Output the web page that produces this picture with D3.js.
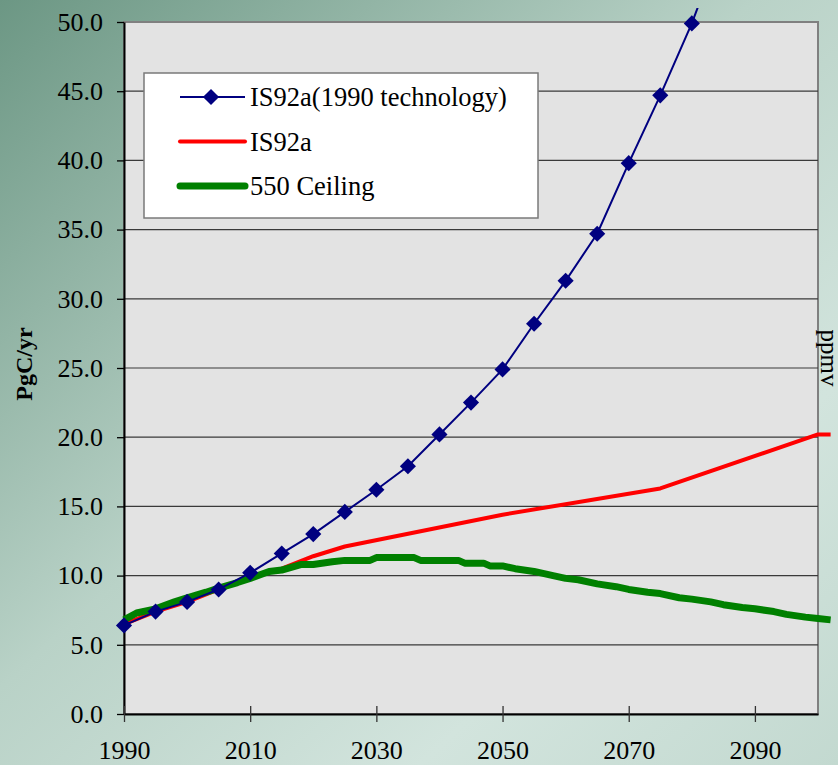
<!DOCTYPE html>
<html lang="en">
<head>
<meta charset="UTF-8">
<title>Emissions scenarios</title>
<script src="https://d3js.org/d3.v7.min.js"></script>
<style>
  html, body { margin: 0; padding: 0; }
  svg { display: block; font-family: "Liberation Serif", "Times New Roman", serif; }
</style>
</head>
<body>
<div id="chart"></div>
<script>
const width = 838;
const height = 765;

// IS92a with 1990 technology, every 5 years (markers)
const techYears = [1990, 1995, 2000, 2005, 2010, 2015, 2020, 2025, 2030, 2035, 2040, 2045, 2050, 2055, 2060, 2065, 2070, 2075, 2080, 2085];
const techValues = [6.4, 7.4, 8.1, 9.0, 10.2, 11.6, 13.0, 14.6, 16.2, 17.9, 20.2, 22.5, 24.9, 28.2, 31.3, 34.7, 39.8, 44.7, 49.9, 56.0];

// IS92a
const is92aYears = [1990, 1995, 2000, 2005, 2010, 2015, 2020, 2025, 2050, 2075, 2100, 2102];
const is92aValues = [6.5, 7.4, 8.1, 9.0, 9.9, 10.5, 11.4, 12.1, 14.4, 16.3, 20.2, 20.2];

// 550 ppmv ceiling
const ceilYears = [1990, 1992, 1995, 1998, 2000, 2003, 2005, 2008, 2010, 2013, 2015, 2018, 2020, 2023, 2025, 2029, 2030, 2036, 2037, 2043, 2044, 2047, 2048, 2050, 2052, 2055, 2058, 2060, 2062, 2065, 2068, 2070, 2073, 2075, 2078, 2080, 2083, 2085, 2088, 2090, 2093, 2095, 2098, 2100, 2102];
const ceilValues = [6.8, 7.3, 7.6, 8.1, 8.4, 8.8, 9.1, 9.5, 9.8, 10.3, 10.4, 10.8, 10.8, 11.0, 11.1, 11.1, 11.3, 11.3, 11.1, 11.1, 10.9, 10.9, 10.7, 10.7, 10.5, 10.3, 10.0, 9.8, 9.7, 9.4, 9.2, 9.0, 8.8, 8.7, 8.4, 8.3, 8.1, 7.9, 7.7, 7.6, 7.4, 7.2, 7.0, 6.9, 6.8];

const yTicks = [0, 5, 10, 15, 20, 25, 30, 35, 40, 45, 50];
const xTicks = [1990, 2010, 2030, 2050, 2070, 2090];

const seriesNames = ["IS92a(1990 technology)", "IS92a", "550 Ceiling"];

const margin = { top: 22, right: 20, bottom: 51, left: 124 };
const plotRight = 818;
const plotBottom = height - margin.bottom;

const svg = d3.select("#chart").append("svg")
    .attr("width", width)
    .attr("height", height);

// background gradient
const defs = svg.append("defs");
const grad = defs.append("linearGradient")
    .attr("id", "bg")
    .attr("x1", "0%").attr("y1", "0%")
    .attr("x2", "100%").attr("y2", "100%");
grad.append("stop").attr("offset", "0%").attr("stop-color", "#6c9784");
grad.append("stop").attr("offset", "45%").attr("stop-color", "#b9d2c7");
grad.append("stop").attr("offset", "75%").attr("stop-color", "#d2e4dd");
grad.append("stop").attr("offset", "100%").attr("stop-color", "#c3d9d0");

defs.append("clipPath").attr("id", "topclip")
    .append("rect")
    .attr("x", 0).attr("y", 8)
    .attr("width", width).attr("height", height);

svg.append("rect")
    .attr("width", width)
    .attr("height", height)
    .attr("fill", "url(#bg)");

const x = d3.scaleLinear().domain([1990, 2100]).range([margin.left, plotRight]);
const y = d3.scaleLinear().domain([0, 50]).range([plotBottom, margin.top]);

// plot area
svg.append("rect")
    .attr("x", x(1990))
    .attr("y", y(50))
    .attr("width", x(2100) - x(1990))
    .attr("height", y(0) - y(50))
    .attr("fill", "#e3e3e3")
    .attr("stroke", "#808080")
    .attr("stroke-width", 2);

// gridlines
svg.append("g")
    .selectAll("line")
    .data(yTicks.filter(d => d > 0 && d < 50))
    .enter()
    .append("line")
    .attr("x1", x(1990))
    .attr("x2", x(2100))
    .attr("y1", d => y(d))
    .attr("y2", d => y(d))
    .attr("stroke", "#3a3a3a")
    .attr("stroke-width", 1.2);

// y axis
const yAxis = svg.append("g")
    .attr("transform", `translate(${x(1990)},0)`)
    .call(d3.axisLeft(y).tickValues(yTicks).tickFormat(d3.format(".1f")).tickSize(7).tickPadding(14).tickSizeOuter(0));
yAxis.select(".domain").attr("stroke", "#000").attr("stroke-width", 2);
yAxis.selectAll(".tick line").attr("stroke", "#000").attr("stroke-width", 1.3);
yAxis.selectAll("text")
    .attr("fill", "#000")
    .style("font-family", "Liberation Serif")
    .style("font-size", "26px");

// x axis
const xAxis = svg.append("g")
    .attr("transform", `translate(0,${y(0)})`)
    .call(d3.axisBottom(x).tickValues(xTicks).tickFormat(d3.format("d")).tickSize(8).tickSizeOuter(0));
xAxis.select(".domain").attr("stroke", "#000").attr("stroke-width", 2);
xAxis.selectAll(".tick line").attr("y1", -8).attr("stroke", "#333").attr("stroke-width", 1.3);
xAxis.selectAll("text")
    .attr("y", 27)
    .attr("fill", "#000")
    .style("font-family", "Liberation Serif")
    .style("font-size", "26px");

// lines
const line = d3.line()
    .x(d => x(d[0]))
    .y(d => y(d[1]));

const ceilData = d3.zip(ceilYears, ceilValues);
const is92aData = d3.zip(is92aYears, is92aValues);
const techData = d3.zip(techYears, techValues);

svg.append("path")
    .datum(is92aData)
    .attr("fill", "none")
    .attr("stroke", "#ff0000")
    .attr("stroke-width", 4)
    .attr("stroke-linejoin", "round")
    .attr("d", line);

svg.append("path")
    .datum(ceilData)
    .attr("fill", "none")
    .attr("stroke", "#008000")
    .attr("stroke-width", 7)
    .attr("stroke-linejoin", "round")
    .attr("d", line);

const techGroup = svg.append("g").attr("clip-path", "url(#topclip)");
techGroup.append("path")
    .datum(techData)
    .attr("fill", "none")
    .attr("stroke", "#000080")
    .attr("stroke-width", 2)
    .attr("d", line);

const diamond = d3.symbol().type(d3.symbolSquare).size(130);
techGroup.selectAll(".marker")
    .data(techData.filter(d => d[1] <= 50))
    .enter()
    .append("path")
    .attr("class", "marker")
    .attr("d", diamond)
    .attr("transform", d => `translate(${x(d[0])},${y(d[1])}) rotate(45)`)
    .attr("fill", "#000080");

// legend
const legend = svg.append("g").attr("transform", "translate(144,73)");
legend.append("rect")
    .attr("width", 394)
    .attr("height", 145)
    .attr("fill", "#fff")
    .attr("stroke", "#7a7a7a")
    .attr("stroke-width", 1.5);

const legendStyles = [
    { color: "#000080", w: 2, marker: true },
    { color: "#ff0000", w: 4, marker: false },
    { color: "#008000", w: 7, marker: false }
];

const rows = legend.selectAll(".row")
    .data(seriesNames)
    .enter()
    .append("g")
    .attr("class", "row")
    .attr("transform", (d, i) => `translate(0,${24 + i * 44.5})`);

rows.append("line")
    .attr("x1", 36)
    .attr("x2", 101)
    .attr("stroke", (d, i) => legendStyles[i].color)
    .attr("stroke-width", (d, i) => legendStyles[i].w)
    .attr("stroke-linecap", (d, i) => i === 0 ? "butt" : "round");

rows.filter((d, i) => legendStyles[i].marker)
    .append("path")
    .attr("d", diamond)
    .attr("transform", "translate(67,0) rotate(45)")
    .attr("fill", "#000080");

rows.append("text")
    .attr("x", 106)
    .attr("y", 9)
    .style("font-size", "26.5px")
    .attr("fill", "#000")
    .text(d => d);

// axis titles
svg.append("text")
    .attr("transform", "translate(32,364) rotate(-90)")
    .attr("text-anchor", "middle")
    .style("font-size", "24px")
    .style("font-weight", "bold")
    .text("PgC/yr");

svg.append("text")
    .attr("transform", "translate(821,358) rotate(90)")
    .attr("text-anchor", "middle")
    .style("font-size", "25px")
    .text("ppmv");
</script>
</body>
</html>
